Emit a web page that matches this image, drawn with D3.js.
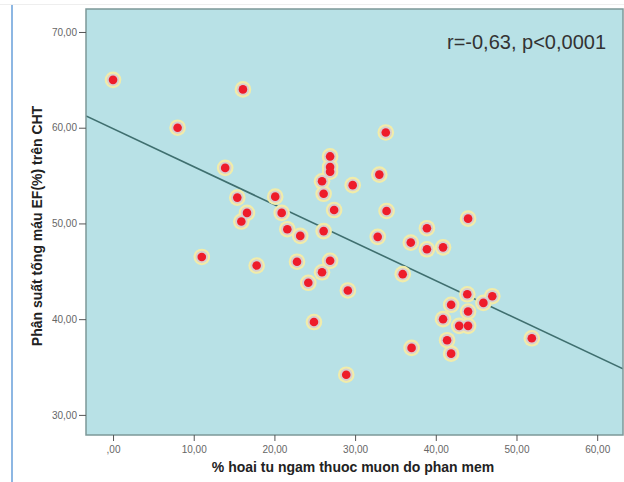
<!DOCTYPE html>
<html><head><meta charset="utf-8">
<script src="https://cdn.jsdelivr.net/npm/d3@7"></script>
<style>body{margin:0;background:#fff}svg{display:block}</style>
</head><body>
<svg id="c" width="624" height="482"></svg>
<script>
const xValues = [0,8,16.1,13.9,15.4,16.6,15.9,20.1,20.9,21.6,23.2,17.8,22.8,26.9,26.9,26.9,25.9,26.1,29.7,27.4,33.8,33.0,33.9,26.1,32.8,36.9,26.9,25.9,35.9,24.2,29.1,24.9,37.0,28.9,44.0,38.9,38.9,40.9,43.9,47.0,45.9,41.9,44.0,40.9,42.9,44.0,41.4,41.9,51.9,11.0];
const yValues = [65.0,60.0,64.0,55.8,52.7,51.1,50.2,52.8,51.1,49.4,48.7,45.6,46.0,57.0,55.9,55.4,54.4,53.1,54.0,51.4,59.5,55.1,51.3,49.2,48.6,48.0,46.1,44.9,44.7,43.8,43.0,39.7,37.0,34.2,50.5,49.5,47.3,47.5,42.6,42.4,41.7,41.5,40.8,40.0,39.3,39.3,37.8,36.4,38.0,46.5];
const xTicks = [0,10,20,30,40,50,60];
const xTickLabels = [",00","10,00","20,00","30,00","40,00","50,00","60,00"];
const yTicks = [30,40,50,60,70];
const yTickLabels = ["30,00","40,00","50,00","60,00","70,00"];
const fitLine = {intercept: 59.9, slope: -0.397};
const annotation = "r=-0,63, p<0,0001";
const xTitle = "% hoai tu ngam thuoc muon do phan mem";
const yTitle = "Phân suất tống máu EF(%) trên CHT";

const svg = d3.select("#c");
const L=86, T=9, R=623, B=435;
const x = d3.scaleLinear().domain([-3.35, 63.2]).range([L, R]);
const y = d3.scaleLinear().domain([27.9, 72.4]).range([B, T]);
const font = "Liberation Sans, Arial, sans-serif";

// top faint shadow and left blue rule
svg.append("line").attr("x1",0).attr("x2",624).attr("y1",4.5).attr("y2",4.5).attr("stroke","#eeeeee").attr("stroke-width",1);
svg.append("line").attr("x1",12).attr("x2",12).attr("y1",5).attr("y2",482).attr("stroke","#8db7e3").attr("stroke-width",2);

// plot bg
svg.append("rect").attr("x",L).attr("y",T).attr("width",R-L).attr("height",B-T).attr("fill","#b8e1e6");
svg.append("clipPath").attr("id","pc").append("rect").attr("x",L).attr("y",T).attr("width",R-L).attr("height",B-T);

// regression line
const xd = x.domain();
svg.append("line").attr("clip-path","url(#pc)")
  .attr("x1",x(xd[0])).attr("y1",y(fitLine.intercept+fitLine.slope*xd[0]))
  .attr("x2",x(xd[1])).attr("y2",y(fitLine.intercept+fitLine.slope*xd[1]))
  .attr("stroke","#3f6f6f").attr("stroke-width",1.6);

// points
const pts = xValues.map((v,i)=>({x:v,y:yValues[i]}));
const g = svg.append("g");
g.selectAll(".o").data(pts).join("circle").attr("cx",d=>x(d.x)).attr("cy",d=>y(d.y)).attr("r",8.3).attr("fill","#f1ecaa");
g.selectAll(".m").data(pts).join("circle").attr("cx",d=>x(d.x)).attr("cy",d=>y(d.y)).attr("r",6.2).attr("fill","#d8cfd0");
g.selectAll(".i").data(pts).join("circle").attr("cx",d=>x(d.x)).attr("cy",d=>y(d.y)).attr("r",4.3).attr("fill","#ee1c2a");

// frame
svg.append("rect").attr("x",L).attr("y",T).attr("width",R-L).attr("height",B-T).attr("fill","none").attr("stroke","#7c9898").attr("stroke-width",1.5);

// axes
const xa = svg.append("g").attr("transform",`translate(0,${B})`)
  .call(d3.axisBottom(x).tickValues(xTicks).tickFormat((d,i)=>xTickLabels[i]).tickSize(6).tickSizeOuter(0));
xa.select(".domain").remove();
xa.selectAll("line").attr("stroke","#555");
xa.selectAll("text").attr("fill","#666").attr("font-family",font).attr("font-size",10).attr("dy","0.9em");

const ya = svg.append("g").attr("transform",`translate(${L},0)`)
  .call(d3.axisLeft(y).tickValues(yTicks).tickFormat((d,i)=>yTickLabels[i]).tickSize(7).tickSizeOuter(0));
ya.select(".domain").remove();
ya.selectAll("line").attr("stroke","#555");
ya.selectAll("text").attr("fill","#666").attr("font-family",font).attr("font-size",10).attr("x",-9);

// titles
svg.append("text").attr("x",353).attr("y",472).attr("text-anchor","middle")
  .attr("font-family",font).attr("font-weight","bold").attr("font-size",14).attr("fill","#222").text(xTitle);
svg.append("text").attr("transform","translate(42,226) rotate(-90)").attr("text-anchor","middle")
  .attr("font-family",font).attr("font-weight","bold").attr("font-size",14).attr("fill","#222").text(yTitle);

svg.append("text").attr("x",606).attr("y",49).attr("text-anchor","end")
  .attr("font-family",font).attr("font-size",20).attr("fill","#333").text(annotation);
</script>
</body></html>
